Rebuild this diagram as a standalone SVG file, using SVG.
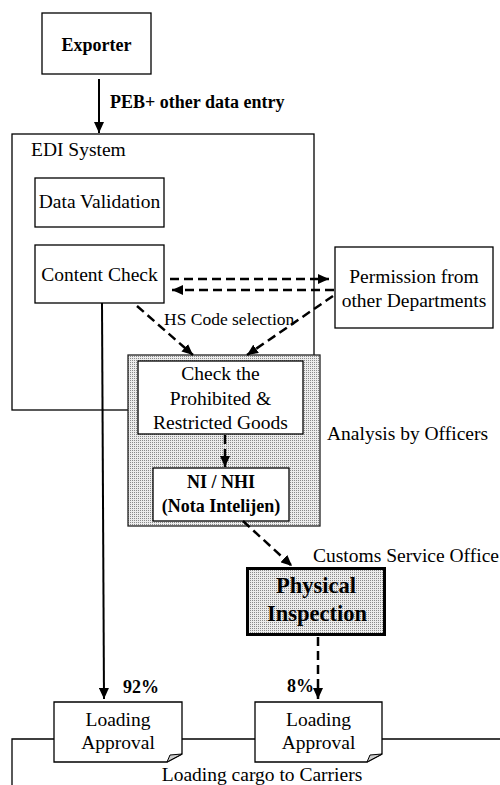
<svg xmlns="http://www.w3.org/2000/svg" width="500" height="785" viewBox="0 0 500 785">
<style>
.box{fill:#fff;stroke:#000;stroke-width:1.3}
.t{font-family:"Liberation Serif","Times New Roman",serif;font-size:19.5px;fill:#000}
.b{font-weight:bold;font-size:18px}
.hs{font-size:17.5px}
.big{font-weight:bold;font-size:22.5px}
.m{text-anchor:middle}
.solid{fill:none;stroke:#000;stroke-width:2}
.dash{fill:none;stroke:#000;stroke-width:2.5;stroke-dasharray:9 5}
.thin{fill:none;stroke:#000;stroke-width:1.3}
</style>
<defs>
<pattern id="dots" width="2" height="2" patternUnits="userSpaceOnUse">
<rect width="2" height="2" fill="#ececec"/>
<rect width="1" height="1" fill="#8a8a8a"/>
</pattern>
<marker id="ah" markerUnits="userSpaceOnUse" markerWidth="12" markerHeight="10" refX="11" refY="5" orient="auto" viewBox="0 0 12 10">
<path d="M0,0 L11,5 L0,10 Z" fill="#000"/>
</marker>
</defs>

<g id="edi-system">
<rect class="box" x="12" y="134" width="302" height="276"/>
<text class="t" x="31" y="156">EDI System</text>
</g>

<g id="exporter">
<rect class="box" x="42" y="13" width="109" height="61"/>
<text class="t b m" x="96.5" y="51">Exporter</text>
</g>

<g id="data-validation">
<rect class="box" x="35" y="178" width="129" height="49"/>
<text class="t m" x="99.5" y="208">Data Validation</text>
</g>

<g id="content-check">
<rect class="box" x="35" y="245" width="129" height="58"/>
<text class="t m" x="99.5" y="281">Content Check</text>
</g>

<g id="permission">
<rect class="box" x="335" y="247" width="158" height="81"/>
<text class="t m" x="414" y="283">Permission from</text>
<text class="t m" x="414" y="307">other Departments</text>
</g>

<g id="analysis-by-officers">
<rect x="128" y="355" width="192" height="171" fill="url(#dots)" stroke="#222" stroke-width="1.3"/>
<text class="t" x="327" y="440">Analysis by Officers</text>
</g>

<g id="check-prohibited">
<rect class="box" x="138" y="361" width="165" height="73"/>
<text class="t m" x="220.5" y="380">Check the</text>
<text class="t m" x="220.5" y="405">Prohibited &amp;</text>
<text class="t m" x="220.5" y="429">Restricted Goods</text>
</g>

<g id="ni-nhi">
<rect class="box" x="153" y="468" width="136" height="53"/>
<text class="t b m" x="221" y="488">NI / NHI</text>
<text class="t b m" x="221" y="512">(Nota Intelijen)</text>
</g>

<g id="physical-inspection">
<text class="t" x="313" y="562">Customs Service Office</text>
<rect x="247.5" y="568.5" width="137" height="66" fill="url(#dots)" stroke="#000" stroke-width="3"/>
<text class="t big m" x="316" y="593">Physical</text>
<text class="t big m" x="317" y="621">Inspection</text>
</g>

<g id="loading-cargo">
<path class="thin" d="M12,785 V739 H54 M182,739 H255 M382,739 H500"/>
<text class="t m" x="262" y="781">Loading cargo to Carriers</text>
</g>

<g id="loading-approval-1">
<path class="box" d="M54,702 H182 V754 L167,762 H54 Z"/>
<path d="M167,762 L170,755 L182,754 Z" fill="#ccc" stroke="#000" stroke-width="1"/>
<text class="t m" x="118" y="726">Loading</text>
<text class="t m" x="118" y="749">Approval</text>
</g>

<g id="loading-approval-2">
<path class="box" d="M255,702 H382 V754 L367,762 H255 Z"/>
<path d="M367,762 L370,755 L382,754 Z" fill="#ccc" stroke="#000" stroke-width="1"/>
<text class="t m" x="318.5" y="726">Loading</text>
<text class="t m" x="318.5" y="749">Approval</text>
</g>

<g id="connectors">
<line class="solid" x1="99" y1="79" x2="99" y2="133" marker-end="url(#ah)"/>
<text class="t b" x="110" y="108">PEB+ other data entry</text>
<line class="dash" x1="170" y1="279" x2="329" y2="279" marker-end="url(#ah)"/>
<line class="dash" x1="334" y1="290" x2="172" y2="290" marker-end="url(#ah)"/>
<line class="dash" x1="137" y1="306" x2="193" y2="355" marker-end="url(#ah)"/>
<line class="dash" x1="333" y1="296" x2="247" y2="355" marker-end="url(#ah)"/>
<text class="t hs" x="164" y="325">HS Code selection</text>
<line class="dash" x1="225" y1="435" x2="225" y2="467" marker-end="url(#ah)"/>
<line class="dash" x1="243" y1="521" x2="292" y2="566" marker-end="url(#ah)"/>
<line class="dash" x1="318" y1="637" x2="318" y2="699" marker-end="url(#ah)"/>
<text class="t b" x="287" y="692">8%</text>
<line class="solid" x1="102" y1="303" x2="104" y2="699" marker-end="url(#ah)"/>
<text class="t b" x="123" y="693">92%</text>
</g>
</svg>
